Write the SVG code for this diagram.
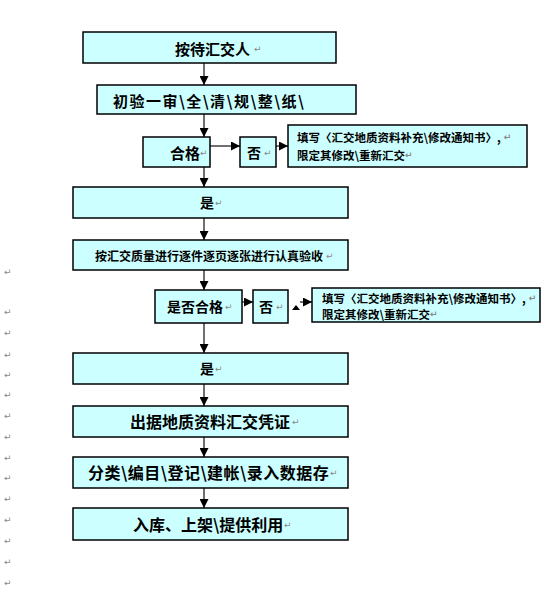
<svg xmlns="http://www.w3.org/2000/svg" width="559" height="602" viewBox="0 0 559 602">
<style>
.box{fill:#CCFFFF;stroke:#000;stroke-width:1.5}
.t{font-family:"Noto Sans CJK SC","Noto Sans CJK JP",sans-serif;font-weight:bold;fill:#000;dominant-baseline:central}
.pm{font-family:"DejaVu Sans",sans-serif;font-size:9px;fill:#888;dominant-baseline:central;letter-spacing:0}
.c{stroke:#707070;stroke-width:2;fill:none;marker-end:url(#ah)}
</style>
<defs>
<marker id="ah" viewBox="0 0 10 10" refX="10" refY="5" markerWidth="4.5" markerHeight="4.5" orient="auto" markerUnits="strokeWidth">
<path d="M0,0 L10,5 L0,10 Z" fill="#000"/>
</marker>
</defs>
<rect width="559" height="602" fill="#fff"/>
<g id="connectors">
<line class="c" x1="204" y1="63" x2="204" y2="85"/>
<line class="c" x1="204" y1="114" x2="204" y2="137"/>
<line class="c" x1="204" y1="167" x2="204" y2="187"/>
<line class="c" x1="204" y1="218" x2="204" y2="240"/>
<line class="c" x1="204" y1="270" x2="204" y2="290"/>
<line class="c" x1="204" y1="323" x2="204" y2="353"/>
<line class="c" x1="204" y1="384" x2="204" y2="406"/>
<line class="c" x1="204" y1="437" x2="204" y2="457"/>
<line class="c" x1="204" y1="488" x2="204" y2="508"/>
<line class="c" x1="210" y1="146" x2="240" y2="146"/>
<line class="c" x1="276" y1="146" x2="288" y2="146"/>
<line class="c" x1="242" y1="302" x2="253" y2="302"/>
<line class="c" x1="300" y1="302" x2="312" y2="302"/>
<path d="M292,310 L296,305 L300,310 Z" fill="#000"/>
</g>
<g id="n1"><rect class="box" x="83" y="32" width="253" height="31"/><text class="t" x="175" y="48" font-size="15">按待汇交人</text><text class="pm" x="254" y="49">↵</text></g>
<g id="n2"><rect class="box" x="97" y="85" width="259" height="29"/><text class="t" x="113" y="100" font-size="15" letter-spacing="1.5">初验一审\全\清\规\整\纸\</text></g>
<g id="n3"><rect class="box" x="143" y="137" width="67" height="30"/><text class="t" x="170" y="152" font-size="15">合格</text><text class="pm" x="200" y="153">↵</text></g>
<g id="n4"><rect class="box" x="240" y="137" width="36" height="30"/><text class="t" x="247" y="152" font-size="14">否</text><text class="pm" x="264" y="153">↵</text></g>
<g id="n5"><rect class="box" x="288" y="125" width="239" height="42"/><text class="t" x="297" y="137" font-size="11.5">填写〈汇交地质资料补充\修改通知书〉,<tspan class="pm" dx="3">↵</tspan></text><text class="t" x="297" y="155" font-size="11.5">限定其修改\重新汇交<tspan class="pm">↵</tspan></text></g>
<g id="n6"><rect class="box" x="73" y="187" width="275" height="31"/><text class="t" x="200" y="202" font-size="14">是</text><text class="pm" x="215" y="203">↵</text></g>
<g id="n7"><rect class="box" x="73" y="240" width="275" height="30"/><text class="t" x="95" y="255" font-size="12">按汇交质量进行逐件逐页逐张进行认真验收</text><text class="pm" x="326" y="256">↵</text></g>
<g id="n8"><rect class="box" x="155" y="290" width="87" height="33"/><text class="t" x="167" y="306" font-size="14">是否合格</text><text class="pm" x="225" y="307">↵</text></g>
<g id="n9"><rect class="box" x="253" y="290" width="35" height="33"/><text class="t" x="259" y="306" font-size="14">否</text><text class="pm" x="276" y="307">↵</text></g>
<g id="n10"><rect class="box" x="312" y="288" width="228" height="34"/><text class="t" x="322" y="298" font-size="11.5">填写〈汇交地质资料补充\修改通知书〉,<tspan class="pm" dx="3">↵</tspan></text><text class="t" x="322" y="314" font-size="11.5">限定其修改\重新汇交<tspan class="pm">↵</tspan></text></g>
<g id="n11"><rect class="box" x="73" y="353" width="275" height="31"/><text class="t" x="200" y="368" font-size="14">是</text><text class="pm" x="215" y="369">↵</text></g>
<g id="n12"><rect class="box" x="73" y="406" width="275" height="31"/><text class="t" x="130" y="421" font-size="16">出据地质资料汇交凭证</text><text class="pm" x="292" y="422">↵</text></g>
<g id="n13"><rect class="box" x="73" y="457" width="275" height="31"/><text class="t" x="88" y="472" font-size="16" letter-spacing="0.5">分类\编目\登记\建帐\录入数据存</text><text class="pm" x="330" y="473">↵</text></g>
<g id="n14"><rect class="box" x="73" y="508" width="275" height="32"/><text class="t" x="133" y="524" font-size="16">入库、上架\提供利用</text><text class="pm" x="284" y="525">↵</text></g>
<g id="marks">
<text class="pm" x="4" y="272">↵</text>
<text class="pm" x="4" y="312">↵</text>
<text class="pm" x="4" y="333">↵</text>
<text class="pm" x="4" y="355">↵</text>
<text class="pm" x="4" y="375">↵</text>
<text class="pm" x="4" y="395">↵</text>
<text class="pm" x="4" y="416">↵</text>
<text class="pm" x="4" y="437">↵</text>
<text class="pm" x="4" y="458">↵</text>
<text class="pm" x="4" y="478">↵</text>
<text class="pm" x="4" y="499">↵</text>
<text class="pm" x="4" y="520">↵</text>
<text class="pm" x="4" y="541">↵</text>
<text class="pm" x="4" y="562">↵</text>
<text class="pm" x="4" y="583">↵</text>
</g>
</svg>
